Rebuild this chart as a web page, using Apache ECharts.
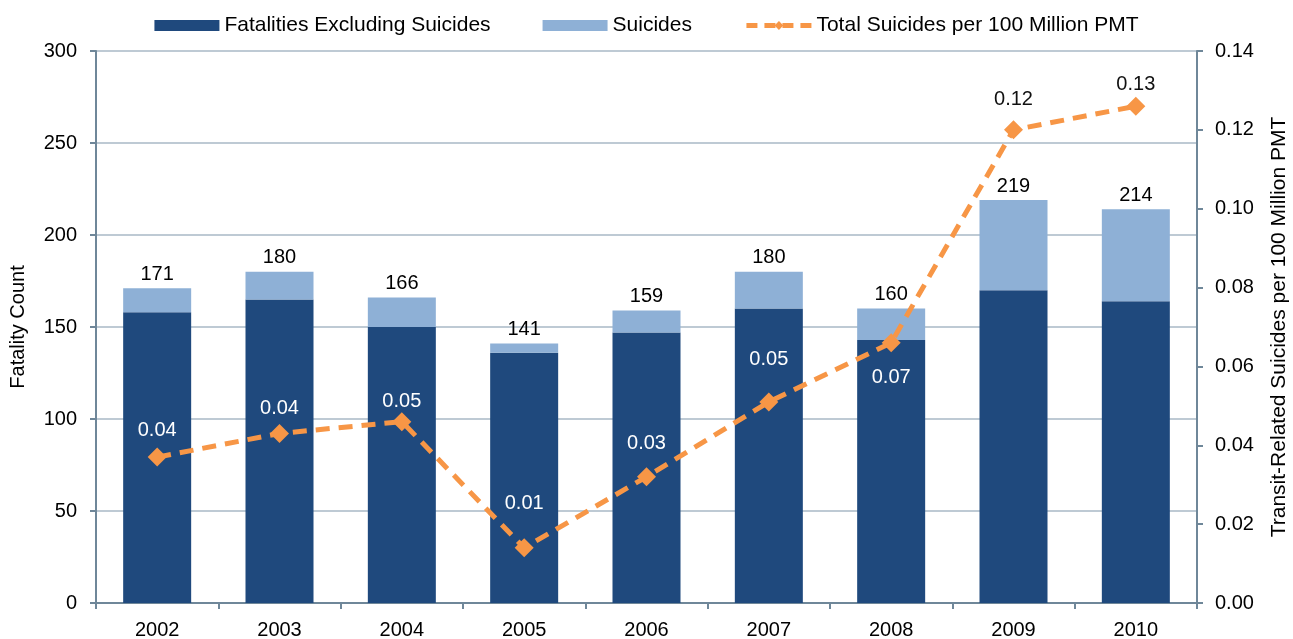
<!DOCTYPE html>
<html>
<head>
<meta charset="utf-8">
<script src="https://cdn.jsdelivr.net/npm/echarts@6/dist/echarts.min.js"></script>
<style>
  html, body { margin: 0; padding: 0; background: #fff; }
  #chart { width: 1293px; height: 639px; }
</style>
</head>
<body>
<div id="chart"></div>
<script>
// Transit fatalities by year, split into suicides and all other fatalities,
// with the suicide rate per 100 million passenger miles travelled.
const years = ['2002', '2003', '2004', '2005', '2006', '2007', '2008', '2009', '2010'];
const fatalitiesExclSuicides = [158, 165, 150, 136, 147, 160, 143, 170, 164];
const suicides = [13, 15, 16, 5, 12, 20, 17, 49, 50];
const suicidesPer100M = [0.037, 0.043, 0.046, 0.014, 0.032, 0.051, 0.066, 0.120, 0.126];

const totals = years.map((_, i) => fatalitiesExclSuicides[i] + suicides[i]);

const FONT = '"Liberation Sans", Arial, sans-serif';
const DARK = '#1f497d';
const LIGHT = '#8eb0d6';
const ORANGE = '#f79646';
const AXIS = '#6f8799';

// label placement for the rate line (gap above / below each marker)
const rateLabelGap = [7, 5, 1, 25, 14, 23, 15, 11, 2];
const rateLabelBelow = [false, false, false, false, false, false, true, false, false];
const rateLabelOnBar = [true, true, true, true, true, true, true, false, false];

const rateData = suicidesPer100M.map((v, i) => ({
  value: v,
  label: {
    position: rateLabelBelow[i] ? 'bottom' : 'top',
    distance: rateLabelGap[i],
    color: rateLabelOnBar[i] ? '#ffffff' : '#111111'
  }
}));

const chart = echarts.init(document.getElementById('chart'));
chart.setOption({
  animation: false,
  textStyle: { fontFamily: FONT },
  legend: {
    top: 10,
    left: 'center',
    itemWidth: 65,
    itemHeight: 11,
    itemGap: 52,
    textStyle: { fontFamily: FONT, fontSize: 21, color: '#000' },
    data: [
      { name: 'Fatalities Excluding Suicides', icon: 'rect' },
      { name: 'Suicides', icon: 'rect' },
      {
        name: 'Total Suicides per 100 Million PMT',
        lineStyle: { width: 5, type: [11, 7] }
      }
    ]
  },
  grid: { left: 96, right: 96, top: 51, bottom: 36, containLabel: false, outerBoundsMode: 'none' },
  xAxis: {
    type: 'category',
    data: years,
    axisLine: { lineStyle: { color: AXIS, width: 2 } },
    axisTick: { show: true, length: 6, lineStyle: { color: AXIS, width: 2 } },
    axisLabel: { fontFamily: FONT, fontSize: 20, color: '#000', margin: 17 }
  },
  yAxis: [
    {
      type: 'value',
      min: 0, max: 300, interval: 50,
      name: 'Fatality Count',
      nameLocation: 'middle',
      nameGap: 68,
      nameRotate: 90,
      nameTextStyle: { fontFamily: FONT, fontSize: 20, color: '#000' },
      axisLine: { show: true, lineStyle: { color: AXIS, width: 2 } },
      axisTick: { show: true, length: 6, lineStyle: { color: AXIS, width: 2 } },
      axisLabel: { fontFamily: FONT, fontSize: 20, color: '#000', margin: 19 },
      splitLine: { lineStyle: { color: '#a9b9c6', width: 1.5 } }
    },
    {
      type: 'value',
      min: 0, max: 0.14, interval: 0.02,
      name: 'Transit-Related Suicides per 100 Million PMT',
      nameLocation: 'middle',
      nameGap: 72,
      nameRotate: 90,
      nameTextStyle: { fontFamily: FONT, fontSize: 21, color: '#000' },
      axisLine: { show: true, lineStyle: { color: AXIS, width: 2 } },
      axisTick: { show: true, length: 6, lineStyle: { color: AXIS, width: 2 } },
      axisLabel: {
        fontFamily: FONT, fontSize: 20, color: '#000', margin: 18,
        formatter: v => v.toFixed(2)
      },
      splitLine: { show: false }
    }
  ],
  series: [
    {
      name: 'Fatalities Excluding Suicides',
      type: 'bar',
      stack: 'total',
      barWidth: 68,
      itemStyle: { color: DARK },
      data: fatalitiesExclSuicides
    },
    {
      name: 'Suicides',
      type: 'bar',
      stack: 'total',
      barWidth: 68,
      itemStyle: { color: LIGHT },
      label: {
        show: true,
        position: 'top',
        distance: 4,
        fontFamily: FONT,
        fontSize: 20,
        color: '#000',
        formatter: p => String(totals[p.dataIndex])
      },
      data: suicides
    },
    {
      name: 'Total Suicides per 100 Million PMT',
      type: 'line',
      yAxisIndex: 1,
      z: 5,
      symbol: 'diamond',
      symbolSize: 19,
      itemStyle: { color: ORANGE },
      lineStyle: { color: ORANGE, width: 5, type: [14, 9] },
      label: {
        show: true,
        fontFamily: FONT,
        fontSize: 20,
        formatter: p => p.value.toFixed(2)
      },
      data: rateData
    }
  ]
});
</script>
</body>
</html>
